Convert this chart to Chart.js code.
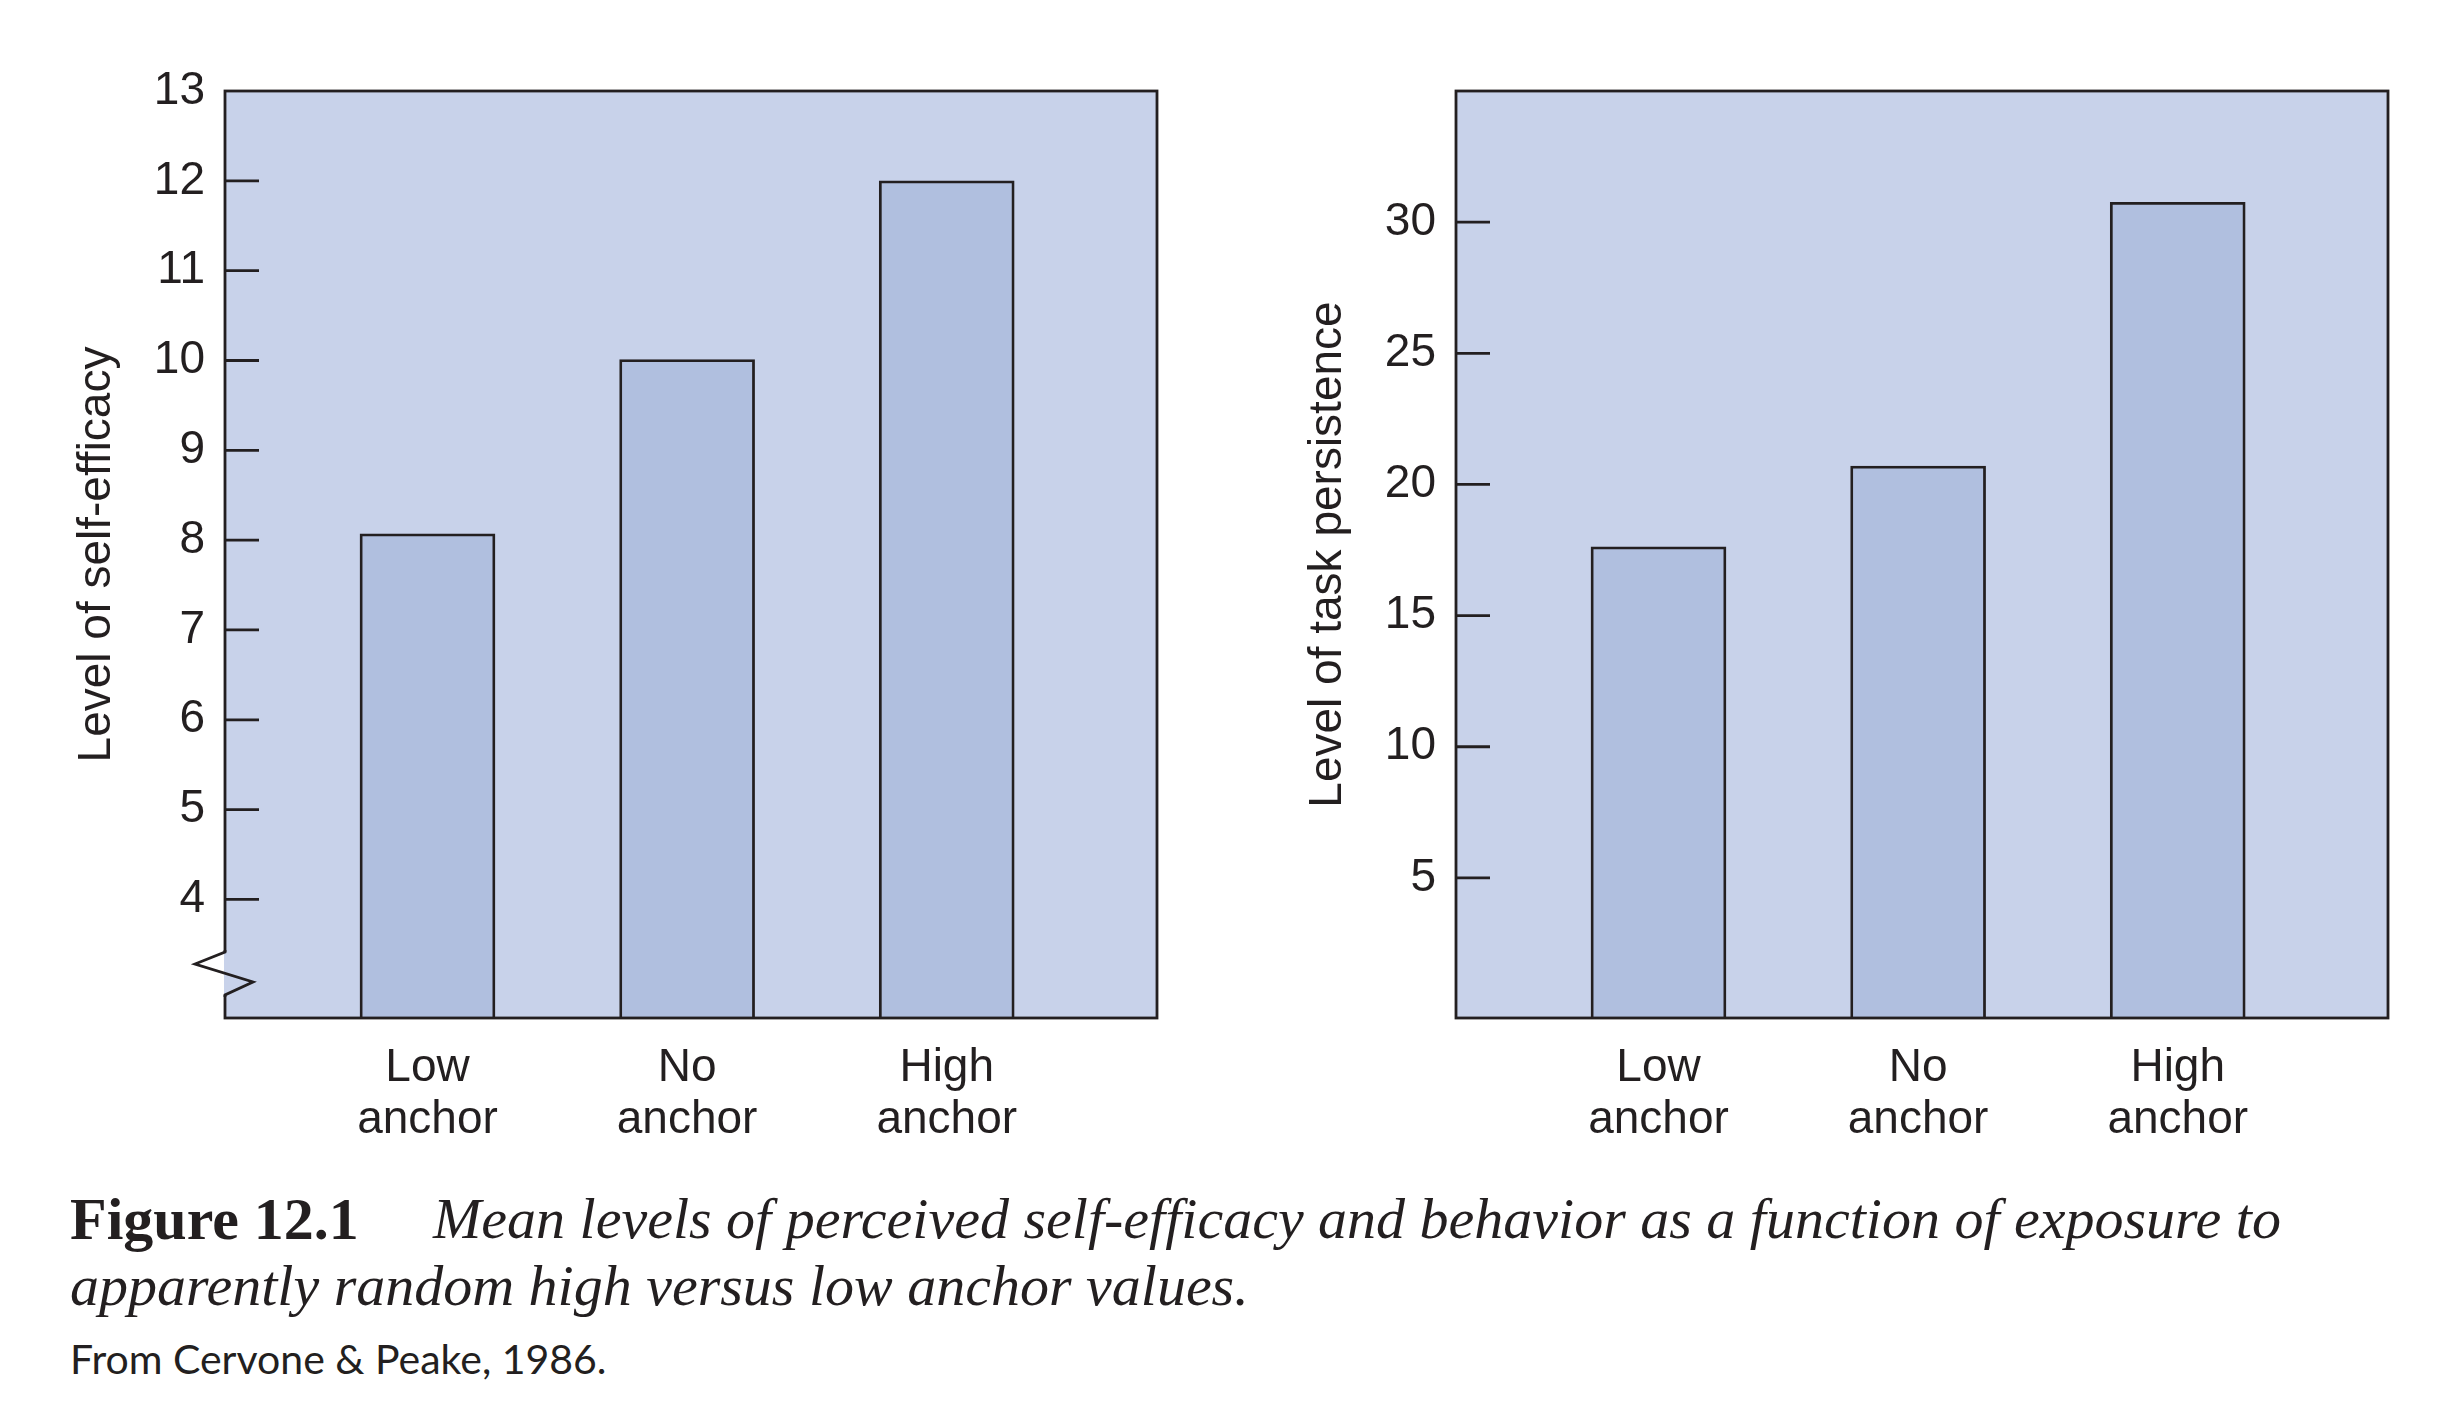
<!DOCTYPE html>
<html>
<head>
<meta charset="utf-8">
<script src="https://cdn.jsdelivr.net/npm/chart.js@4.4.1/dist/chart.umd.min.js"></script>
<style>
  body { margin: 0; background: #fff; }
  #pagina { position: relative; width: 2452px; height: 1420px; overflow: hidden; background: #fff; }
  .grafico { position: absolute; top: 0; width: 1200px; height: 1150px; }
  .texto { position: absolute; white-space: nowrap; color: #231f20; }
  .serif { font-family: 'Liberation Serif', 'DejaVu Serif', serif; font-size: 58px; line-height: 58px; }
  .fonte { font-family: Lato, 'Liberation Sans', sans-serif; font-size: 41px; line-height: 41px; }
</style>
</head>
<body>
<div id="pagina">
  <div class="grafico" style="left:0px"><canvas id="graficoEficacia"></canvas></div>
  <div class="grafico" style="left:1231px"><canvas id="graficoPersistencia"></canvas></div>
  <div class="texto serif" style="left:70px; top:1189px; font-weight:bold; font-size:60px; line-height:60px;">Figure 12.1</div>
  <div class="texto serif" style="left:433px; top:1190px; font-style:italic;">Mean levels of perceived self-efficacy and behavior as a function of exposure to</div>
  <div class="texto serif" style="left:70px; top:1257px; font-style:italic;">apparently random high versus low anchor values.</div>
  <div class="texto fonte" style="left:70px; top:1338px;">From Cervone &amp; Peake, 1986.</div>
</div>
<script>
const categorias = [['Low', 'anchor'], ['No', 'anchor'], ['High', 'anchor']];
const posicoes = [1, 2, 3];
const autoEficacia = [8.07, 10.01, 12.0];
const persistencia = [17.62, 20.70, 30.76];
const ticksEficacia = [4, 5, 6, 7, 8, 9, 10, 11, 12, 13];
const ticksPersistencia = [5, 10, 15, 20, 25, 30];

const corTinta = '#231f20';
const corFundo = '#c8d2ea';
const corBarra = '#b0bfdf';
const fonteEixo = { family: "'Liberation Sans', Arial, sans-serif", size: 46 };

// fundo, moldura, marcas internas e quebra do eixo
const moldura = {
  id: 'moldura',
  beforeDraw(grafico) {
    const { ctx, chartArea: a } = grafico;
    ctx.save();
    ctx.fillStyle = corFundo;
    ctx.fillRect(a.left, a.top, a.right - a.left, a.bottom - a.top);
    ctx.restore();
  },
  afterDraw(grafico, args, opcoes) {
    const { ctx, chartArea: a } = grafico;
    const escala = grafico.scales.y;
    ctx.save();
    ctx.strokeStyle = corTinta;
    ctx.lineWidth = 2.8;
    ctx.strokeRect(a.left, a.top, a.right - a.left, a.bottom - a.top);
    escala.ticks.forEach(t => {
      if (t.value >= escala.max) return;
      const y = escala.getPixelForValue(t.value);
      ctx.beginPath();
      ctx.moveTo(a.left, y);
      ctx.lineTo(a.left + 34, y);
      ctx.stroke();
    });
    if (opcoes.quebra) {
      const x = a.left;
      const b = a.bottom;
      ctx.fillStyle = corFundo;
      ctx.fillRect(x - 3, b - 66, 6, 43);
      ctx.fillStyle = '#ffffff';
      ctx.fillRect(x - 4, b - 66, 3, 43);
      ctx.beginPath();
      ctx.moveTo(x, b - 68);
      ctx.lineTo(x, b - 66);
      ctx.lineTo(x - 30, b - 54);
      ctx.lineTo(x + 28, b - 36);
      ctx.lineTo(x, b - 23);
      ctx.lineTo(x, b - 21);
      ctx.stroke();
    }
    ctx.restore();
  }
};

function criaGrafico(elemento, titulo, valores, marcas, minimo, maximo, quebra) {
  return new Chart(elemento, {
    type: 'bar',
    data: {
      datasets: [{
        data: valores.map((v, i) => ({ x: posicoes[i], y: v })),
        base: minimo,
        backgroundColor: corBarra,
        borderColor: corTinta,
        borderWidth: 2.8,
        borderSkipped: 'bottom',
        barThickness: 135
      }]
    },
    options: {
      responsive: true,
      maintainAspectRatio: false,
      animation: false,
      layout: { padding: { top: 91, right: 43, bottom: 0, left: 0 } },
      plugins: {
        legend: { display: false },
        tooltip: { enabled: false },
        moldura: { quebra: quebra }
      },
      scales: {
        x: {
          type: 'linear',
          offset: false,
          min: 0.22,
          max: 3.81,
          grid: { display: false, drawTicks: false },
          border: { display: false },
          afterBuildTicks: escala => { escala.ticks = posicoes.map(p => ({ value: p })); },
          afterFit: escala => { escala.height = 132; },
          ticks: {
            padding: 24,
            color: corTinta,
            font: { ...fonteEixo, lineHeight: 1.13 },
            maxRotation: 0,
            callback: v => categorias[posicoes.indexOf(v)]
          }
        },
        y: {
          min: minimo,
          max: maximo,
          grid: { display: false, drawTicks: false },
          border: { display: false },
          afterBuildTicks: escala => { escala.ticks = marcas.map(m => ({ value: m })); },
          afterFit: escala => { escala.width = 225; },
          ticks: { padding: 20, color: corTinta, font: fonteEixo },
          title: {
            display: true,
            text: titulo,
            color: corTinta,
            font: fonteEixo,
            padding: { top: 70, bottom: 0 }
          }
        }
      }
    },
    plugins: [moldura]
  });
}

criaGrafico(document.getElementById('graficoEficacia'), 'Level of self-efficacy',
  autoEficacia, ticksEficacia, 2.68, 13, true);
criaGrafico(document.getElementById('graficoPersistencia'), 'Level of task persistence',
  persistencia, ticksPersistencia, -0.34, 35, false);
</script>
</body>
</html>
